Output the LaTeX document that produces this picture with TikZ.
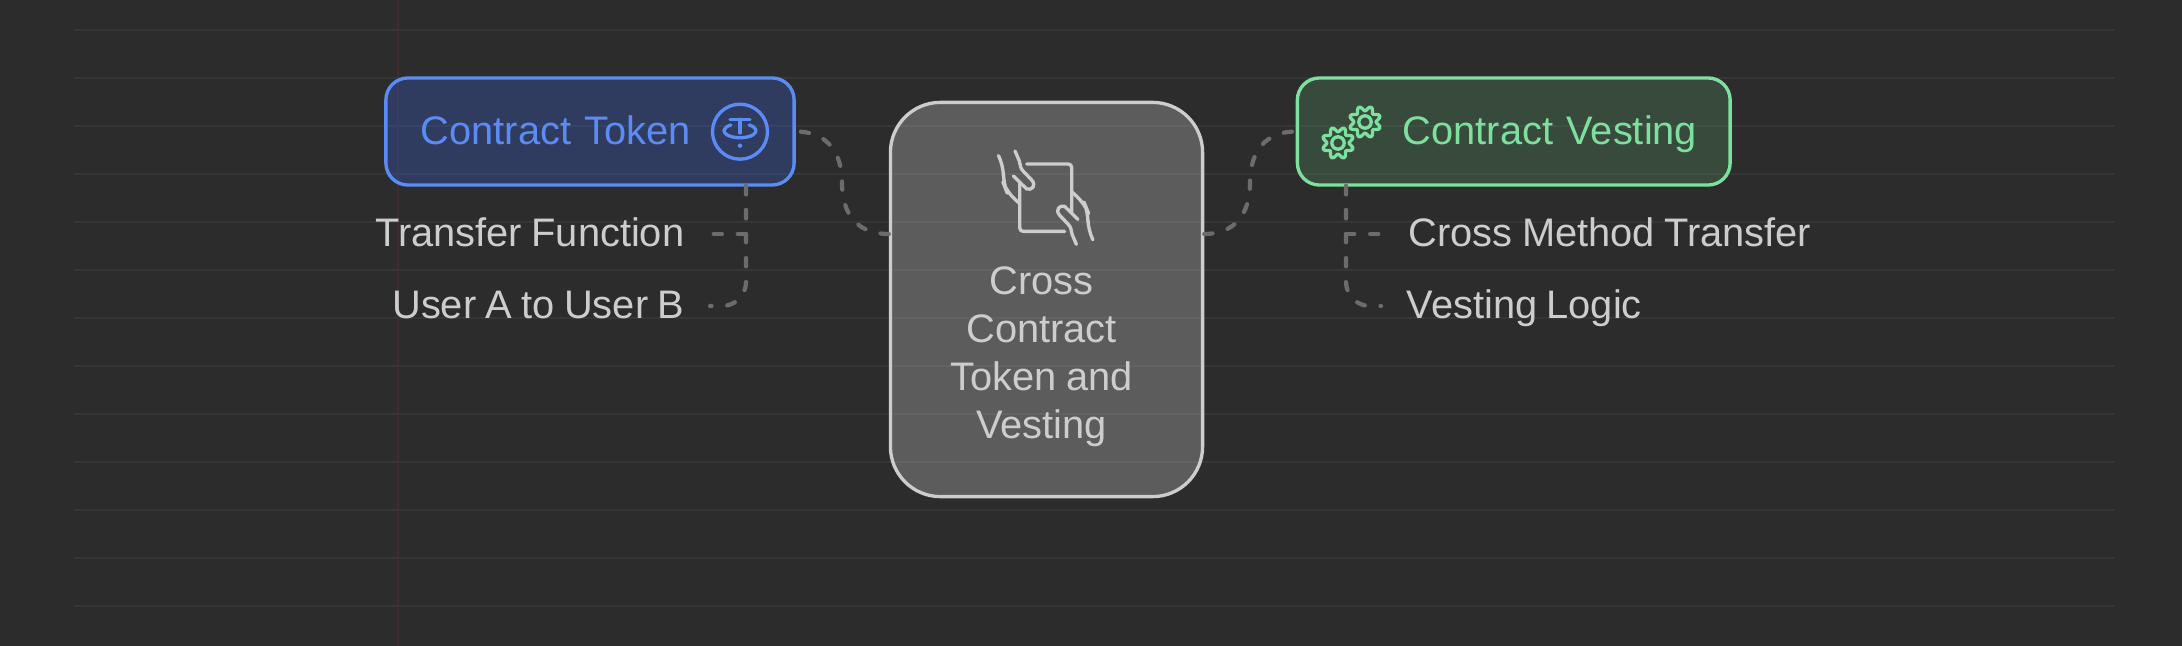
\documentclass[tikz,border=0pt]{standalone}
\usepackage{fontspec}
\setmainfont[WordSpace=.85]{Liberation Sans}
\definecolor{canvasbg}{HTML}{2C2C2C}
\definecolor{ruleline}{HTML}{363636}
\definecolor{marginline}{HTML}{412D2D}
\definecolor{linkgray}{HTML}{6C6C6C}
\definecolor{labelgray}{HTML}{CDCDCD}
\definecolor{tokenblue}{HTML}{5B8CF5}
\definecolor{tokenfill}{HTML}{365ED6}
\definecolor{vestgreen}{HTML}{7DE09F}
\definecolor{vestfill}{HTML}{549061}
\tikzset{
  boxtext/.style={font=\fontsize{11.32pt}{13.66pt}\selectfont,text height=.32cm,text depth=.07cm},
  topbox/.style={draw,line width=.95pt,rounded corners=.22cm,fill opacity=.3,text opacity=1,
    minimum height=1.07cm,boxtext},
  sidelabel/.style={boxtext,text=labelgray,inner xsep=.25cm,inner ysep=0pt},
  link/.style={draw=linkgray,line width=1.2pt,line cap=round,dash pattern=on 2.35pt off 4.48pt},
  iconline/.style={line width=.95pt,line cap=round,line join=round},
  tether/.pic={
    \draw[iconline,draw=tokenblue] (0,0) circle [radius=27.5];
    \draw[iconline,draw=tokenblue] (-10,-12.4) -- (10,-12.4) (0,-12.4) -- (0,1.3);
    \draw[iconline,draw=tokenblue] (9.2,-6.7) arc [start angle=-55,end angle=235,x radius=16,y radius=7];
    \fill[tokenblue] (0,14) circle [radius=2.2];
  },
  cog/.pic={
    \draw[iconline,draw=vestgreen] plot [domain=0:360,samples=97] (\x:{13.5-2.4*cos(8*\x)}) -- cycle;
    \draw[iconline,draw=vestgreen] (0,0) circle [radius=6.2];
  },
  handpaper/.pic={
    \foreach \r in {0,180}
    {
      \begin{scope}[rotate=\r,iconline,draw=labelgray]
        \draw[rounded corners=1pt] (-19,-33.7) -- (26,-33.7) -- (26,14);
        \draw[rounded corners=3pt] (-46.3,-40.3) -- (-42.3,-32.7) -- (-42.3,-14.3) -- (-39,-6) -- (-26.3,5.7);
        \draw (-30.7,-46.7) -- (-26.5,-37) .. controls (-25,-32) and (-26,-30) .. (-22,-26)
          -- (-14,-17.7) .. controls (-9,-12) and (-14,-7) .. (-19,-8.7) -- (-32.3,-21.7);
      \end{scope}
    }
  }
}
\begin{document}
\begin{tikzpicture}[x=.01cm,y=-.01cm]
  \path[fill=canvasbg,use as bounding box] (0,0) rectangle (2182,646);

  % notebook lines
  \foreach \y in {30,78,...,606}
    \draw[ruleline,line width=.55pt] (74,\y) -- (2114,\y);
  \draw[marginline,line width=.55pt] (398,0) -- (398,646);

  \node[topbox,draw=tokenblue,fill=tokenfill,text=tokenblue,align=left,inner xsep=.35cm,
    text width=3.38cm] (token) at (590,131.5) {Contract Token};
  \node[topbox,draw=vestgreen,fill=vestfill,text=vestgreen,align=right,inner xsep=.33cm,
    text width=3.665cm] (vesting) at (1513.75,131.5) {Contract Vesting};
  \node[draw=labelgray,line width=.95pt,rounded corners=.5cm,fill=labelgray,fill opacity=.3,
    minimum width=3.12cm,minimum height=3.94cm] (core) at (1046.5,299.5) {};
  \node[font=\fontsize{11.32pt}{13.66pt}\selectfont,text=labelgray,align=center,inner sep=0pt] (coretext)
    at (1041.5,357) {Cross\\Contract\\Token and\\Vesting};

  \node[sidelabel,anchor=east] (transfer) at (710,234) {Transfer Function};
  \node[sidelabel,anchor=east] (user) at (710,306) {User A to User B};
  \node[sidelabel,anchor=west] (method) at (1383,234) {Cross Method Transfer};
  \node[sidelabel,anchor=west] (logic) at (1381,306) {Vesting Logic};

  % icons
  \pic at (740,131.7) {tether};
  \pic at (1338,143) {cog};
  \pic at (1365,122) {cog};
  \pic at (1045.7,197.7) {handpaper};

  % free ends of the links
  \coordinate (bendL) at (842,182.7);
  \coordinate (bendR) at (1250,182.7);
  \coordinate (trunkL) at (746,186);
  \coordinate (trunkR) at (1346,186);

  \draw[link] (core.west |- transfer.east) .. controls (858,234) and (842,215) .. (bendL)
    .. controls (842,150) and (825,131.5) .. (token.east);
  \draw[link] (core.east |- method.west) .. controls (1234,234) and (1250,215) .. (bendR)
    .. controls (1250,150) and (1267,131.5) .. (vesting.west);
  \foreach \from/\to in
  {trunkL/transfer.east,trunkR/method.west}
    \draw[link] (\from) |- (\to);
  \foreach \from/\to in
  {trunkL/user.east,trunkR/logic.west}
    \draw[link,rounded corners=.24cm] (\from) |- (\to);
\end{tikzpicture}
\end{document}
